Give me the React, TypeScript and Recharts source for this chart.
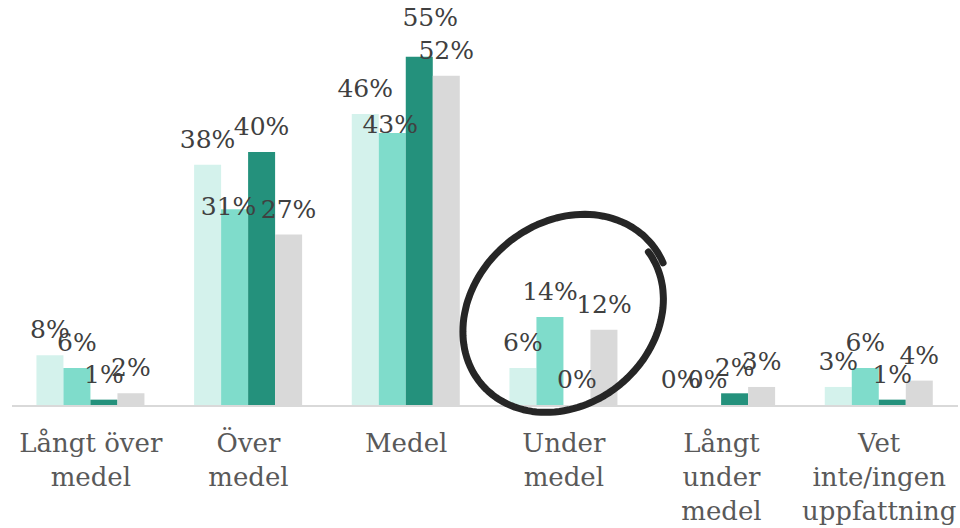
import React from 'react';
import { BarChart, Bar, XAxis, YAxis, LabelList, Cell } from 'recharts';

const CATEGORIES = ['Långt över medel', 'Över medel', 'Medel', 'Under medel', 'Långt under medel', 'Vet inte/ingen uppfattning'];
const TICK_LINES = [
  ['Långt över', 'medel'],
  ['Över', 'medel'],
  ['Medel'],
  ['Under', 'medel'],
  ['Långt', 'under', 'medel'],
  ['Vet', 'inte/ingen', 'uppfattning'],
];
const SERIES_1 = [8, 38, 46, 6, 0, 3];
const SERIES_2 = [6, 31, 43, 14, 0, 6];
const SERIES_3 = [1, 40, 55, 0, 2, 1];
const SERIES_4 = [2, 27, 52, 12, 3, 4];

const COLORS = ['#d4f2ec', '#7fdccb', '#24917c', '#d9d9d9'];
const KEYS = ['s1', 's2', 's3', 's4'];
const SERIES = [SERIES_1, SERIES_2, SERIES_3, SERIES_4];

// label nudges where the original labels were moved by hand
const LABEL_NUDGE: Record<string, [number, number]> = {
  's2-1': [-6, 23],
  's2-2': [-2, 17],
  's3-2': [11, -14],
};

const W = 960;
const H = 528;
const M = { top: 25, right: 2, bottom: 0, left: 12 };
const AXIS_H = 122;
const PLOT_BOTTOM = H - AXIS_H;
const FONT = '"DejaVu Serif", serif';

const data = CATEGORIES.map((name, i) => ({
  name,
  s1: SERIES_1[i],
  s2: SERIES_2[i],
  s3: SERIES_3[i],
  s4: SERIES_4[i],
}));

const CategoryTick = (props: any) => {
  const { x, index } = props;
  const lines = TICK_LINES[index] || [];
  return (
    <text x={x} y={PLOT_BOTTOM + 46} textAnchor="middle" fill="#595959" fontSize={26} fontFamily={FONT}>
      {lines.map((l, i) => (
        <tspan key={i} x={x} dy={i === 0 ? 0 : 34}>{l}</tspan>
      ))}
    </text>
  );
};

const makeLabel = (key: string) => (props: any) => {
  const { x, y, width, value, index } = props;
  const [dx, dy] = LABEL_NUDGE[`${key}-${index}`] || [0, 0];
  return (
    <text
      x={x + width / 2 + dx}
      y={y - 17 + dy}
      textAnchor="middle"
      fill="#404040"
      fontSize={25}
      fontFamily={FONT}
    >
      {`${value}%`}
    </text>
  );
};

// hand-drawn looking ring around "Under medel"
const Ring = () => {
  const band = (W - M.left - M.right) / CATEGORIES.length;
  const cx = M.left + band * 3.5 + 1;
  const cy = 315;
  const rot = (-40 * Math.PI) / 180;
  const pts: string[] = [];
  const steps = 140;
  for (let i = 0; i <= steps; i++) {
    const t = i / steps;
    const a = Math.PI * 0.02 + t * Math.PI * 2.06;
    const grow = 0.97 + 0.07 * t;
    const ex = 108 * grow * Math.cos(a);
    const ey = 90 * grow * Math.sin(a);
    const px = cx + ex * Math.cos(rot) - ey * Math.sin(rot);
    const py = cy + ex * Math.sin(rot) + ey * Math.cos(rot);
    pts.push(`${i === 0 ? 'M' : 'L'}${px.toFixed(1)},${py.toFixed(1)}`);
  }
  return (
    <svg width={W} height={H} style={{ position: 'absolute', left: 0, top: 0, pointerEvents: 'none' }}>
      <path d={pts.join(' ')} fill="none" stroke="#262626" strokeWidth={7} strokeLinecap="round" strokeLinejoin="round" />
    </svg>
  );
};

export default function App() {
  return (
    <div style={{ position: 'absolute', left: 0, top: 0, width: W, height: H, background: '#fff' }}>
      <BarChart width={W} height={H} data={data} margin={M} barGap={0} barCategoryGap="15.5%">
        <XAxis
          dataKey="name"
          interval={0}
          tickLine={false}
          axisLine={{ stroke: '#d9d9d9', strokeWidth: 2 }}
          tick={<CategoryTick />}
          height={AXIS_H}
        />
        <YAxis hide domain={[0, 60]} />
        {KEYS.map((k, i) => (
          <Bar key={k} dataKey={k} fill={COLORS[i]} minPointSize={1} isAnimationActive={false}>
            {SERIES[i].map((v, j) => (
              <Cell key={j} fill={v === 0 ? 'transparent' : COLORS[i]} />
            ))}
            <LabelList dataKey={k} content={makeLabel(k)} />
          </Bar>
        ))}
      </BarChart>
      <Ring />
    </div>
  );
}
